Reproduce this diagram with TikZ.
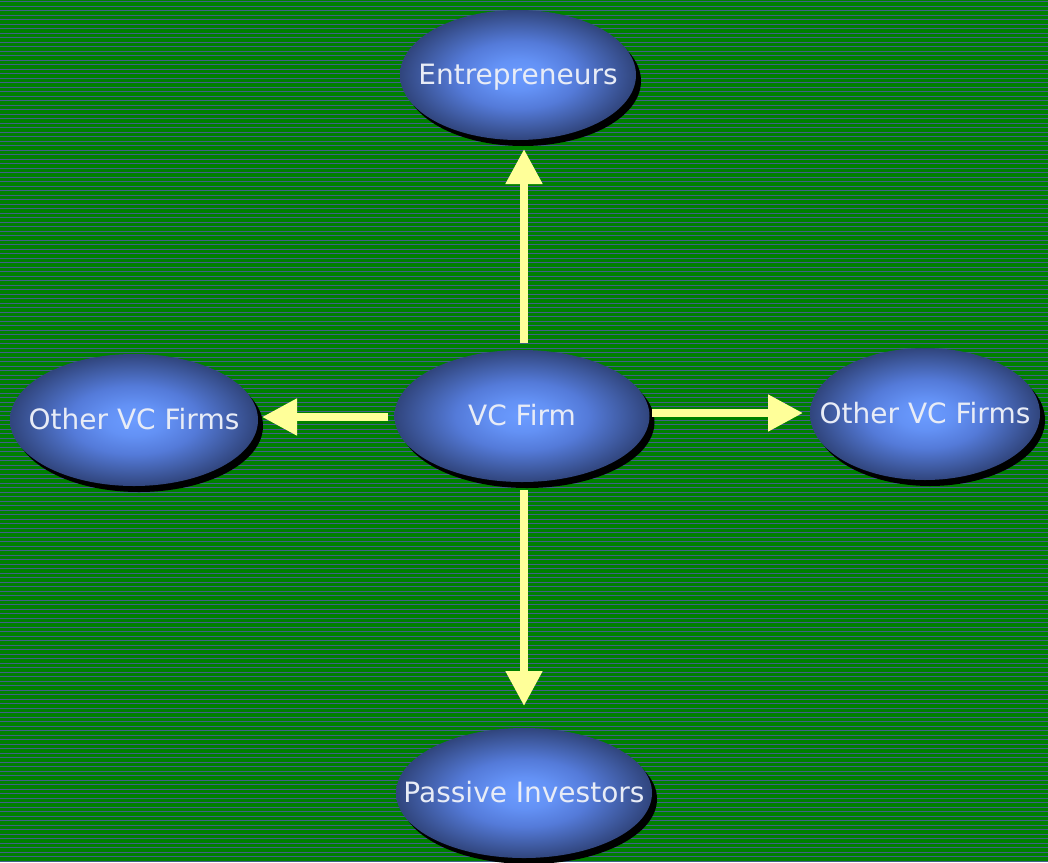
\documentclass[tikz,border=0pt]{standalone}
\usepackage{fontspec}
\setmainfont{DejaVu Sans}
\usetikzlibrary{shapes.geometric,shadows,arrows.meta}
\definecolor{bggreen}{RGB}{0,128,0}
\definecolor{stripe}{RGB}{66,96,138}
\definecolor{arr}{RGB}{255,255,153}
\definecolor{txt}{RGB}{232,236,246}
\pgfdeclareradialshading{bubbleshade}{\pgfpoint{0bp}{0bp}}{%
  rgb(0bp)=(0.42,0.61,1.0);
  rgb(6bp)=(0.39,0.57,0.96);
  rgb(13bp)=(0.33,0.48,0.85);
  rgb(20bp)=(0.25,0.36,0.64);
  rgb(25bp)=(0.19,0.27,0.49);
  rgb(50bp)=(0.19,0.27,0.49)}
\newcommand{\ctext}[1]{\makebox[0pt]{\fontsize{28}{32}\selectfont\raisebox{-0.35em}[0pt][0pt]{#1}}}
\begin{document}
\begin{tikzpicture}[x=1pt,y=-1pt,
  bubble/.style={ellipse, inner sep=0pt, outer sep=0pt, shading=bubbleshade,
    drop shadow={shadow xshift=5pt, shadow yshift=-6pt, fill=black, opacity=1},
    text=txt},
  link/.style={draw=arr, line width=8pt, -{Triangle[width=35pt,length=35pt]}}]
\useasboundingbox (0,0) rectangle (1048,862);
\fill[bggreen] (0,0) rectangle (1048,862);
\foreach \i in {0,...,192} \fill[stripe] (0,\i*4.5+1) rectangle (1048,\i*4.5+2.4);
% nodes
\node[bubble, minimum width=236pt, minimum height=130pt] (E) at (518,75) {\ctext{Entrepreneurs}};
\node[bubble, minimum width=255pt, minimum height=132pt] (VC) at (522,416) {\ctext{VC Firm}};
\node[bubble, minimum width=248pt, minimum height=132pt] (L) at (134,420) {\ctext{Other VC Firms}};
\node[bubble, minimum width=230pt, minimum height=132pt] (R) at (925,414) {\ctext{Other VC Firms}};
\node[bubble, minimum width=256pt, minimum height=130pt] (P) at (524,793) {\ctext{Passive Investors}};
% connectors
\draw[link, shorten <=7pt, shorten >=9pt] ([xshift=2pt]VC.north) -- ([xshift=2pt]VC.north |- E.south);
\draw[link, shorten <=7pt, shorten >=4pt] ([yshift=-1pt]VC.west) -- ([yshift=-1pt]VC.west -| L.east);
\draw[link, shorten <=2pt, shorten >=7pt] ([yshift=3pt]VC.east) -- ([yshift=3pt]VC.east -| R.west);
\draw[link, shorten <=8pt, shorten >=22pt] ([xshift=2pt]VC.south) -- ([xshift=2pt]VC.south |- P.north);
\end{tikzpicture}
\end{document}
